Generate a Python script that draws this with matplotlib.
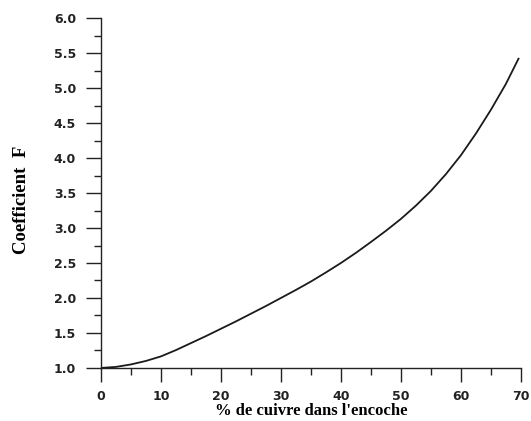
import numpy as np
import matplotlib
matplotlib.use('Agg')
import matplotlib.pyplot as plt
from matplotlib.ticker import MultipleLocator

# % de cuivre dans l'encoche vs coefficient F
cuivre = [0, 2.5, 5, 7.5, 10, 12.5, 15, 17.5, 20, 22.5, 25, 27.5, 30, 32.5, 35, 37.5,
          40, 42.5, 45, 47.5, 50, 52.5, 55, 57.5, 60, 62.5, 65, 67.5, 69.6]
coef_f = [1.0, 1.015, 1.05, 1.10, 1.165, 1.255, 1.355, 1.455, 1.56, 1.665, 1.775, 1.885,
          2.0, 2.115, 2.235, 2.365, 2.5, 2.645, 2.80, 2.96, 3.13, 3.32, 3.53, 3.77, 4.04,
          4.35, 4.69, 5.06, 5.42]

xticks = [0, 10, 20, 30, 40, 50, 60, 70]
yticks = [1.0, 1.5, 2.0, 2.5, 3.0, 3.5, 4.0, 4.5, 5.0, 5.5, 6.0]

fig = plt.figure(figsize=(5.31, 4.21), dpi=100)
ax = fig.add_axes([0.190, 0.126, 0.791, 0.831])

ax.plot(cuivre, coef_f, color='#1a1a1a', lw=1.3)

ax.set_xlim(0, 70)
ax.set_ylim(1.0, 6.0)
ax.set_xticks(xticks)
ax.set_yticks(yticks)
ax.set_yticklabels(['{:.1f}'.format(v) for v in yticks])
ax.xaxis.set_minor_locator(MultipleLocator(5))
ax.yaxis.set_minor_locator(MultipleLocator(0.25))

for s in ['top', 'right']:
    ax.spines[s].set_visible(False)
for s in ['left', 'bottom']:
    ax.spines[s].set_linewidth(1.0)
    ax.spines[s].set_color('#222222')

ax.tick_params(axis='y', which='major', direction='out', length=11, width=1.0, pad=7, colors='#222222')
ax.tick_params(axis='y', which='minor', direction='out', length=5, width=1.0, colors='#222222')
ax.tick_params(axis='x', which='major', direction='out', length=10, width=1.0, pad=6, colors='#222222')
ax.tick_params(axis='x', which='minor', direction='out', length=5, width=1.0, colors='#222222')
for lab in ax.get_xticklabels() + ax.get_yticklabels():
    lab.set_fontfamily('DejaVu Sans')
    lab.set_fontweight('bold')
    lab.set_fontsize(9)

ax.set_xlabel("% de cuivre dans l'encoche", fontfamily='Liberation Serif',
              fontweight='bold', fontsize=12)
ax.set_ylabel('Coefficient  F', fontfamily='Liberation Serif',
              fontweight='bold', fontsize=13.5)
ax.xaxis.set_label_coords(0.5, -0.1)
ax.yaxis.set_label_coords(-0.169, 0.48)

plt.savefig('out.png', dpi=100)
